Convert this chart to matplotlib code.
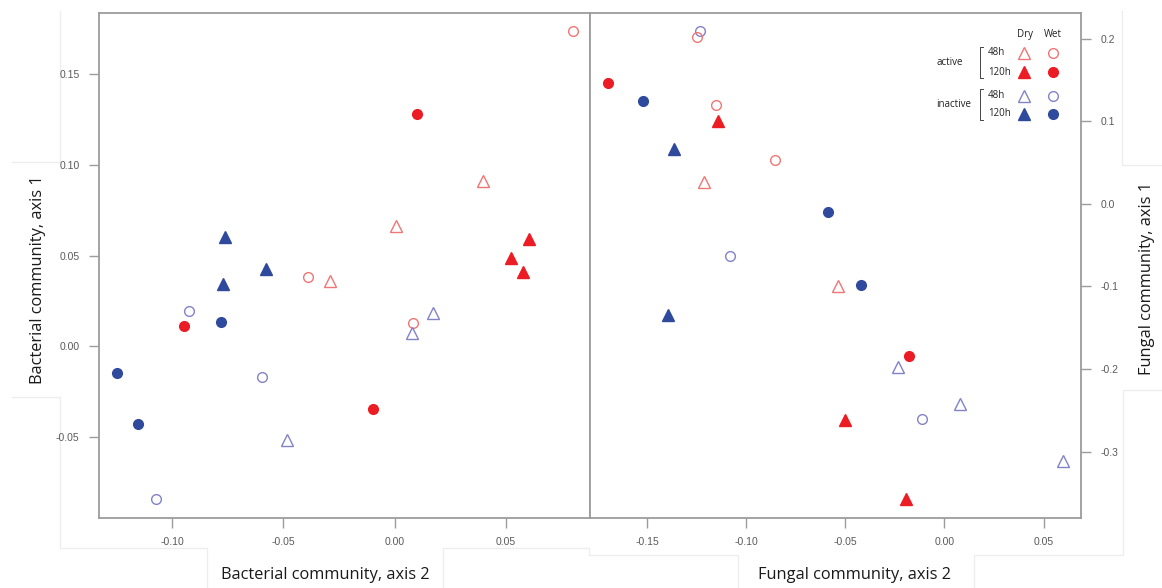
import numpy as np
import matplotlib.pyplot as plt
from matplotlib.lines import Line2D

# group codes: A=active, I=inactive; 48/120 h; D=dry (triangle), W=wet (circle)
bact_group = ['A48W', 'A120W', 'A48D', 'A48D', 'A120D', 'A120D', 'A120D',
              'I120D', 'I120D', 'I120D', 'A48W', 'A48D', 'I48W', 'A120W',
              'I120W', 'I48D', 'A48W', 'I48D', 'I120W', 'I48W', 'A120W',
              'I120W', 'I48D', 'I48W']
bact_x = [0.0801, 0.0099, 0.0400, 0.0007, 0.0606, 0.0522, 0.0579,
          -0.0762, -0.0580, -0.0772, -0.0390, -0.0289, -0.0924, -0.0945,
          -0.0780, 0.0174, 0.0082, 0.0078, -0.1246, -0.0595, -0.0099,
          -0.1154, -0.0483, -0.1073]
bact_y = [0.1734, 0.1279, 0.0908, 0.0664, 0.0593, 0.0484, 0.0407,
          0.0602, 0.0428, 0.0345, 0.0382, 0.0361, 0.0193, 0.0114,
          0.0136, 0.0183, 0.0130, 0.0075, -0.0147, -0.0167, -0.0345,
          -0.0426, -0.0514, -0.0840]

fung_group = ['I48W', 'A48W', 'A120W', 'I120W', 'A48W', 'A120D', 'I120D',
              'A48W', 'A48D', 'I120W', 'I48W', 'A48D', 'I120W', 'I120D',
              'A120W', 'I48D', 'I48D', 'I48W', 'A120D', 'I48D', 'A120D']
fung_x = [-0.1234, -0.1247, -0.1696, -0.1518, -0.1151, -0.1143, -0.1365,
          -0.0852, -0.1213, -0.0585, -0.1079, -0.0534, -0.0422, -0.1395,
          -0.0178, -0.0234, 0.0079, -0.0111, -0.0501, 0.0600, -0.0192]
fung_y = [0.2086, 0.2014, 0.1465, 0.1247, 0.1195, 0.1005, 0.0662,
          0.0529, 0.0266, -0.0097, -0.0630, -0.0993, -0.0985, -0.1352,
          -0.1840, -0.1973, -0.2425, -0.2607, -0.2623, -0.3119, -0.3571]

bact_xticks = [-0.10, -0.05, 0.00, 0.05]
bact_yticks = [-0.05, 0.00, 0.05, 0.10, 0.15]
fung_xticks = [-0.15, -0.10, -0.05, 0.00, 0.05]
fung_yticks = [-0.3, -0.2, -0.1, 0.0, 0.1, 0.2]

red_full = '#ec1c24'
red_light = '#f07676'
blue_full = '#2f4a9c'
blue_light = '#8282c8'


def style(code):
    active = code.startswith('A')
    late = '120' in code
    if active:
        col = red_full if late else red_light
    else:
        col = blue_full if late else blue_light
    mk = '^' if code.endswith('D') else 'o'
    ms = 8.0 if mk == '^' else 7.0
    face = col if late else 'none'
    return mk, ms, col, face


def draw_points(ax, xs, ys, groups):
    for x, y, g in zip(xs, ys, groups):
        mk, ms, col, face = style(g)
        ax.plot([x], [y], marker=mk, ms=ms, mfc=face, mec=col, mew=1.0,
                ls='none')


plt.rcParams['axes.unicode_minus'] = False
plt.rcParams['font.family'] = ['Liberation Sans', 'DejaVu Sans']
fig = plt.figure(figsize=(11.62, 5.88), dpi=100)

W, H = 1162, 588
def fx(px):
    return px / W
def fy(py):
    return 1 - py / H

frame_col = '#9c9c9c'
tick_col = '#5a5a5a'

ax1 = fig.add_axes([fx(99), fy(518), fx(590) - fx(99), fy(13) - fy(518)])
ax2 = fig.add_axes([fx(590), fy(518), fx(1081) - fx(590), fy(13) - fy(518)])

draw_points(ax1, bact_x, bact_y, bact_group)
draw_points(ax2, fung_x, fung_y, fung_group)

ax1.set_xlim(-0.1329, 0.0879)
ax1.set_ylim(-0.0945, 0.1835)
ax2.set_xlim(-0.1787, 0.0689)
ax2.set_ylim(-0.3805, 0.2309)

for ax in (ax1, ax2):
    for s in ax.spines.values():
        s.set_color(frame_col)
        s.set_linewidth(1.3)
    ax.tick_params(colors=frame_col, labelcolor=tick_col, labelsize=7.5,
                   length=7, width=1.0, pad=7)

ax1.set_xticks(bact_xticks)
ax1.set_xticklabels(['%.2f' % v for v in bact_xticks])
ax1.set_yticks(bact_yticks)
ax1.set_yticklabels(['%.2f' % v for v in bact_yticks])

ax2.set_xticks(fung_xticks)
ax2.set_xticklabels(['%.2f' % v for v in fung_xticks])
ax2.yaxis.tick_right()
ax2.set_yticks(fung_yticks)
ax2.set_yticklabels(['%.1f' % v for v in fung_yticks])
ax2.tick_params(axis='y', left=False)

# axis titles
lab = dict(family='Open Sans', fontsize=11.8, color='#1a1a1a',
           ha='center', va='center')
fig.text(fx(38), fy(280), 'Bacterial community, axis 1', rotation=90, **lab)
fig.text(fx(325), fy(575), 'Bacterial community, axis 2', **lab)
fig.text(fx(855), fy(575), 'Fungal community, axis 2', **lab)
fig.text(fx(1147), fy(278), 'Fungal community, axis 1', rotation=90, **lab)

# faint outlines of the pasted text boxes
faint = '#ededed'
outline = [
    [(60, 11), (60, 162), (12, 162)],
    [(12, 397), (60, 397), (60, 548), (207, 548), (207, 588)],
    [(443, 588), (443, 548), (589, 548), (589, 555), (738, 555), (738, 588)],
    [(974, 588), (974, 555), (1123, 555), (1123, 390), (1162, 390)],
    [(1162, 165), (1122, 165), (1122, 11)],
]
for pts in outline:
    xs = [fx(p[0]) for p in pts]
    ys = [fy(p[1]) for p in pts]
    fig.add_artist(Line2D(xs, ys, color=faint, lw=0.9, zorder=0))

# legend built inside the right panel
leg = dict(family='Open Sans', fontsize=7.0, color='#222222',
           transform=ax2.transAxes)
ax2.text(0.886, 0.958, 'Dry', ha='center', va='center', **leg)
ax2.text(0.943, 0.958, 'Wet', ha='center', va='center', **leg)
ax2.text(0.760, 0.901, 'active', ha='right', va='center', **leg)
ax2.text(0.776, 0.818, 'inactive', ha='right', va='center', **leg)
rows = [(0.921, 'A48'), (0.883, 'A120'), (0.836, 'I48'), (0.800, 'I120')]
for ry, code in rows:
    ax2.text(0.811, ry, code[1:] + 'h', ha='left', va='center', **leg)
    for cx, suffix in ((0.884, 'D'), (0.943, 'W')):
        mk, ms, col, face = style(code + suffix)
        ax2.plot([cx], [ry], marker=mk, ms=ms, mfc=face, mec=col, mew=1.0,
                 ls='none', transform=ax2.transAxes, clip_on=False)
for y0, y1 in ((0.933, 0.871), (0.850, 0.788)):
    ax2.plot([0.800, 0.794, 0.794, 0.800], [y0, y0, y1, y1],
             color='#444444', lw=0.7, transform=ax2.transAxes)

fig.savefig('out.png', dpi=100)
